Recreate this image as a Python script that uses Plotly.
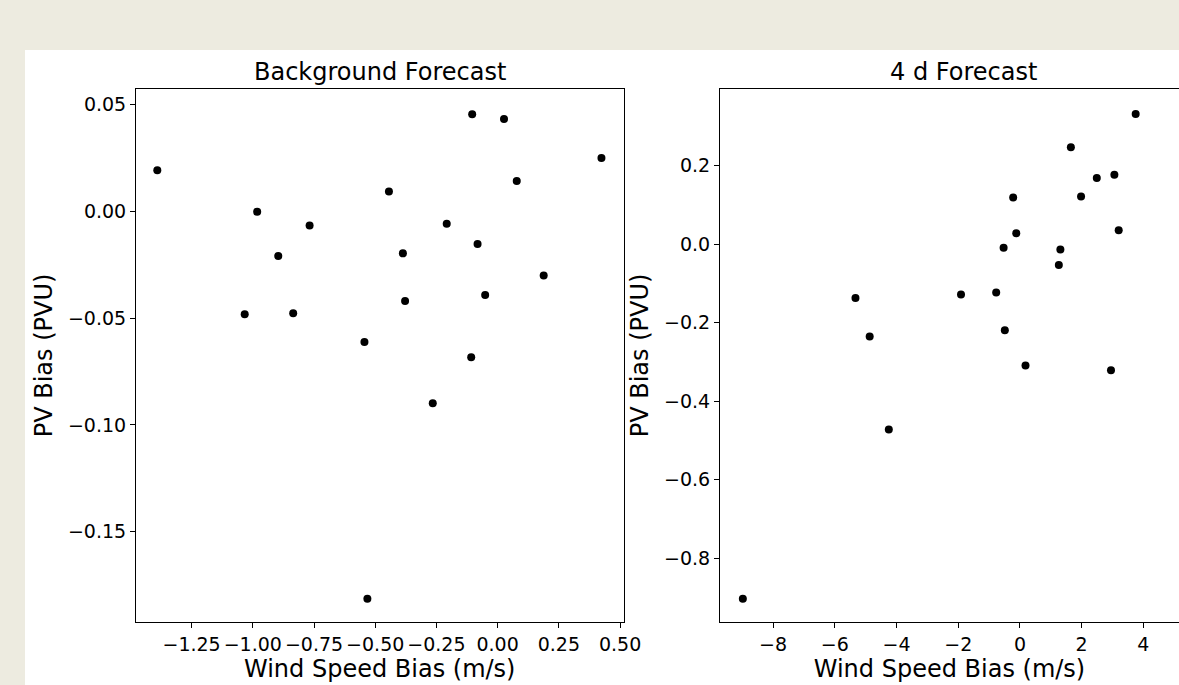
import plotly.graph_objects as go

# Background Forecast panel
bg_wind_bias = [-1.390, -0.104, 0.026, 0.424, 0.078, -0.444, -0.982, -0.768, -0.208, -0.082,
                -0.896, -0.387, 0.188, -0.051, -0.378, -1.033, -0.835, -0.544, -0.108, -0.265, -0.532]
bg_pv_bias = [0.0192, 0.0454, 0.0432, 0.0249, 0.0142, 0.0092, -0.0002, -0.0067, -0.0059, -0.0153,
              -0.0209, -0.0197, -0.0301, -0.0392, -0.0420, -0.0482, -0.0477, -0.0612, -0.0683, -0.0898, -0.1813]

# 4 d Forecast panel
fc_wind_bias = [3.75, 1.65, 2.49, 3.06, -0.22, 1.98, -0.12, 3.20, -0.53, 1.31,
                1.26, -5.33, -1.91, -0.77, -4.87, -0.49, 0.18, 2.95, -4.25, -8.98]
fc_pv_bias = [0.332, 0.247, 0.169, 0.177, 0.119, 0.122, 0.028, 0.036, -0.009, -0.013,
              -0.053, -0.137, -0.128, -0.123, -0.235, -0.219, -0.309, -0.321, -0.472, -0.903]

panel_titles = ["Background Forecast", "4 d Forecast"]
x_label = "Wind Speed Bias (m/s)"
y_label = "PV Bias (PVU)"

W, H = 1179, 685
FONT = "DejaVu Sans"


def fx(px):
    return px / W


def fy(py):
    return 1 - py / H


top, bottom = 89, 622
fig = go.Figure()

fig.add_trace(go.Scatter(x=bg_wind_bias, y=bg_pv_bias, mode="markers",
                         marker=dict(color="black", size=8), xaxis="x", yaxis="y",
                         showlegend=False, hoverinfo="skip"))
fig.add_trace(go.Scatter(x=fc_wind_bias, y=fc_pv_bias, mode="markers",
                         marker=dict(color="black", size=8), xaxis="x2", yaxis="y2",
                         showlegend=False, hoverinfo="skip"))

axis_common = dict(showgrid=False, zeroline=False, showline=True, linecolor="black",
                   linewidth=1, ticks="outside", ticklen=5, tickwidth=1, tickcolor="black",
                   automargin=False,
                   tickfont=dict(family=FONT, size=19, color="black"))

title_font = dict(family=FONT, size=24, color="black")

fig.update_layout(
    width=W, height=H, autosize=False,
    margin=dict(l=0, r=0, t=0, b=0, pad=0, autoexpand=False),
    paper_bgcolor="#EDEBE0",
    plot_bgcolor="white",
    xaxis=dict(domain=[fx(136), fx(623.5)], range=[-1.477, 0.514], dtick=0.25, tick0=0,
               tickformat=".2f", mirror=True, anchor="y",
               title=dict(text=x_label, font=title_font, standoff=2),
               **axis_common),
    yaxis=dict(domain=[fy(bottom), fy(top)], range=[-0.1922, 0.0572], dtick=0.05, tick0=0,
               tickformat=".2f", mirror=True, anchor="x",
               title=dict(text=y_label, font=title_font, standoff=8),
               **axis_common),
    xaxis2=dict(domain=[fx(720), 1.0], range=[-9.72, 5.154], dtick=2, tick0=0,
                tickformat="d", mirror=True, anchor="y2",
                title=dict(text=x_label, font=title_font, standoff=2),
                **axis_common),
    yaxis2=dict(domain=[fy(bottom), fy(top)], range=[-0.9623, 0.3957], dtick=0.2, tick0=0,
                tickformat=".1f", mirror=False, anchor="x2",
                title=dict(text=y_label, font=title_font, standoff=8),
                **axis_common),
    shapes=[dict(type="rect", xref="paper", yref="paper", x0=fx(25), x1=1.0, y0=0, y1=fy(50),
                 fillcolor="white", line=dict(width=0), layer="below")],
    annotations=[
        dict(text=panel_titles[0], x=(136 + 623.5) / 2 / W, y=fy(72), xref="paper", yref="paper",
             showarrow=False, xanchor="center", yanchor="middle", font=title_font),
        dict(text=panel_titles[1], x=(720 + 1207) / 2 / W, y=fy(72), xref="paper", yref="paper",
             showarrow=False, xanchor="center", yanchor="middle", font=title_font),
    ],
)

fig.write_html(
    "out.html",
    config={"displayModeBar": False, "responsive": False},
    post_script="document.body.style.margin='0';document.body.style.overflow='hidden';",
)
